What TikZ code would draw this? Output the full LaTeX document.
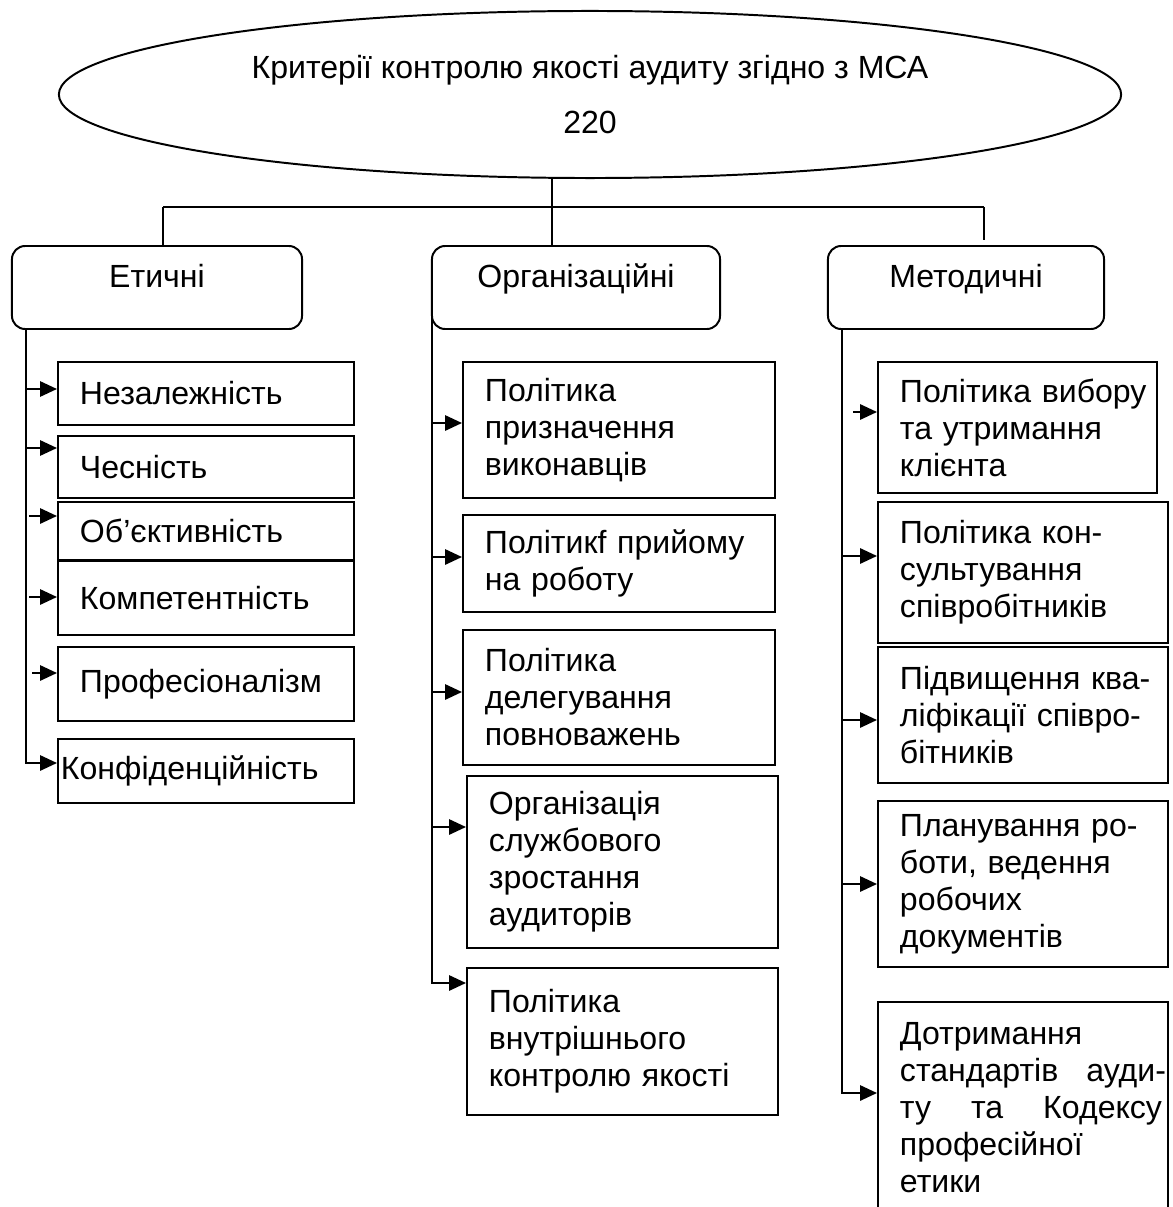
\documentclass[tikz,border=0pt]{standalone}
\usepackage{fontspec}
\setmainfont{Liberation Sans}
\usetikzlibrary{shapes.geometric,arrows.meta}
\exhyphenpenalty=10000

\begin{document}
\begin{tikzpicture}[x=0.025cm, y=-0.025cm, line width=1.4pt,
    every node/.style={font=\fontsize{22.8}{26.3}\selectfont},
    head/.style={draw, rounded corners=0.33cm, minimum height=2.075cm,
      text height=0.45cm, text depth=0.45cm, inner sep=0pt},
    item/.style={draw, align=left, inner xsep=0.55cm, inner ysep=0pt},
    link/.style={-{Triangle[length=0.42cm, width=0.38cm]}}]
        % Page frame
        \useasboundingbox (0,0) rectangle (1172,1207);
        \clip (0,0) rectangle (1172,1207);

        % Title ellipse
        \node[draw, ellipse, minimum width=26.55cm, minimum height=4.175cm, align=center]
          (top) at (590,94.5) {Критерії контролю якості аудиту згідно з МСА\\[0.45cm]220};

        % Groups
        \node[head, minimum width=7.25cm] (eth) at (157,287.5) {Етичні};
        \node[head, minimum width=7.2cm] (org) at (576,287.5) {Організаційні};
        \node[head, minimum width=6.9cm] (met) at (966,287.5) {Методичні};

        % Bar under the ellipse
        \coordinate (barL) at (163,207);
        \coordinate (barR) at (984,207);
        \coordinate (stem) at (552,207);
        \coordinate (metgap) at (984,240);
        \draw (barL) -- (barR);
        \draw (barL) -- (barL |- eth.north);
        \draw (barR) -- (metgap);
        \draw (top.south -| stem) -- (stem |- org.north);

        % Ethical criteria
        \node[item, text width=6.3cm, minimum height=1.575cm] (l1) at (206,393.5) {Незалежність};
        \node[item, text width=6.3cm, minimum height=1.55cm] (l2) at (206,467) {Чесність};
        \node[item, text width=6.3cm, minimum height=1.45cm] (l3) at (206,531) {Об’єктивність};
        \node[item, text width=6.3cm, minimum height=1.85cm] (l4) at (206,598) {Компетентність};
        \node[item, text width=6.3cm, minimum height=1.85cm] (l5) at (206,684) {Професіоналізм};
        \node[item, text width=7.25cm, inner xsep=0.075cm, minimum height=1.6cm] (l6) at (206,771) {Конфіденційність};

        % Organisational criteria
        \node[item, text width=6.7cm, minimum height=3.4cm] (m1) at (619,430) {Політика\\призначення\\виконавців};
        \node[item, text width=6.7cm, minimum height=2.425cm] (m2) at (619,563.5) {Політикf~прийому\\на роботу};
        \node[item, text width=6.7cm, minimum height=3.375cm] (m3) at (619,697.5) {Політика\\делегування\\повноважень};
        \node[item, text width=6.675cm, minimum height=4.3cm] (m4) at (622.5,862) {Організація\\службового\\зростання\\аудиторів};
        \node[item, text width=6.675cm, minimum height=3.675cm] (m5) at (622.5,1041.5) {Політика\\внутрішнього\\контролю~якості};

        % Methodical criteria
        \node[item, text width=5.875cm, minimum height=3.275cm] (r1) at (1017.5,427.5) {Політика~вибору\\та утримання\\клієнта};
        \node[item, text width=6.15cm, minimum height=3.525cm] (r2) at (1023,572.5) {Політика~кон-\\сультування\\співробітників};
        \node[item, text width=6.15cm, minimum height=3.4cm] (r3) at (1023,715) {Підвищення~ква-\\ліфікації~співро-\\бітників};
        \node[item, text width=6.15cm, minimum height=4.15cm] (r4) at (1023,884) {Планування~ро-\\боти, ведення\\робочих\\документів};
        \node[item, text width=6.15cm, minimum height=5.3cm] (r5) at (1023,1108)
          {Дотримання\\стандартів\hfill ауди-\kern-0.5cm\\ту\hfill та\hfill Кодексу\kern-0.4cm\\професійної\\етики};

        % Left branch
        \coordinate (ethend) at (26,763);
        \draw[link] (eth.south -| ethend) -- (ethend) -- (ethend -| l6.west);
        \draw[link] (26,389) coordinate (a1) -- (a1 -| l1.west);
        \draw[link] (26,448) coordinate (a2) -- (a2 -| l2.west);
        \draw[link] (29,516) coordinate (a3) -- (a3 -| l3.west);
        \draw[link] (29,597) coordinate (a4) -- (a4 -| l4.west);
        \draw[link] (32,673) coordinate (a5) -- (a5 -| l5.west);

        % Middle branch
        \coordinate (orgend) at (432,983);
        \draw[link] (orgend |- org.west) -- (orgend) -- (orgend -| m5.west);
        \draw[link] (432,423) coordinate (b1) -- (b1 -| m1.west);
        \draw[link] (432,557) coordinate (b2) -- (b2 -| m2.west);
        \draw[link] (432,692) coordinate (b3) -- (b3 -| m3.west);
        \draw[link] (432,827) coordinate (b4) -- (b4 -| m4.west);

        % Right branch
        \coordinate (metend) at (842,1093);
        \draw[link] (met.south -| metend) -- (metend) -- (metend -| r5.west);
        \draw[link] (853,412) coordinate (c1) -- (c1 -| r1.west);
        \draw[link] (842,556) coordinate (c2) -- (c2 -| r2.west);
        \draw[link] (842,720) coordinate (c3) -- (c3 -| r3.west);
        \draw[link] (842,884) coordinate (c4) -- (c4 -| r4.west);
\end{tikzpicture}
\end{document}
